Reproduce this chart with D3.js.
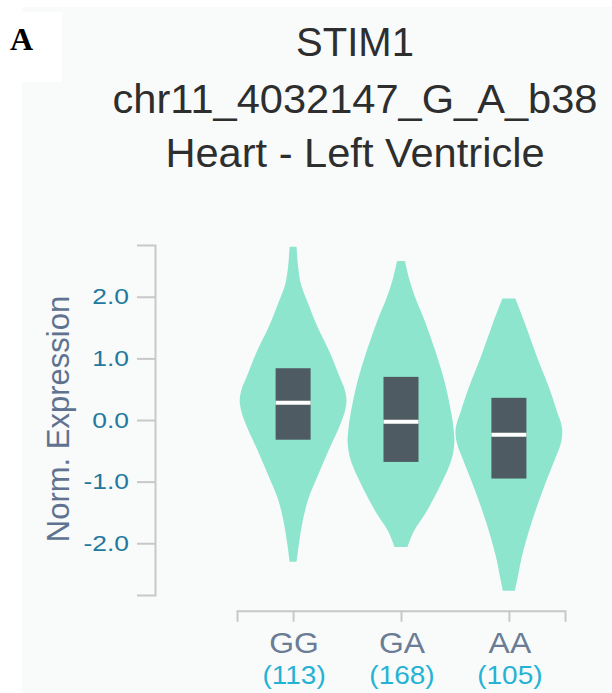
<!DOCTYPE html>
<html>
<head>
<meta charset="utf-8">
<script src="https://cdn.jsdelivr.net/npm/d3@7"></script>
<style>
  html, body { margin: 0; padding: 0; background: #ffffff; }
  svg { display: block; }
  text { font-family: "Liberation Sans", Arial, sans-serif; }
</style>
</head>
<body>
<div id="chart"></div>
<script>
// ---- data ----
const panelLabel = "A";
const titleLines = ["STIM1", "chr11_4032147_G_A_b38", "Heart - Left Ventricle"];
const genotypes = ["GG", "GA", "AA"];
const sampleCounts = [113, 168, 105];
const yTicks = [-2, -1, 0, 1, 2];
const yDomain = [-2.84, 2.84];
const yLabel = "Norm. Expression";

// violin outlines: expression value and relative density (half width)
const ggValues  = [2.81, 2.50, 2.20, 1.90, 1.50, 1.10, 0.70, 0.50, 0.32, 0.12, -0.10, -0.35, -0.60, -0.90, -1.30, -1.70, -2.00, -2.30];
const ggDensity = [3.5, 5, 8, 15, 25, 37, 47, 52, 54, 52, 47, 40, 33, 25, 15, 9, 6, 3.5];
const gaValues  = [2.58, 2.30, 2.00, 1.60, 1.14, 0.60, 0.10, -0.12, -0.35, -0.55, -0.76, -1.14, -1.50, -1.80, -2.06];
const gaDensity = [4, 8, 14, 24, 34, 44, 50.5, 52.5, 53.5, 52, 48, 37, 25, 13, 6.5];
const aaValues  = [1.97, 1.57, 1.03, 0.49, 0.10, -0.04, -0.18, -0.38, -0.60, -1.14, -1.70, -2.22, -2.54, -2.77];
const aaDensity = [6.5, 16, 28, 41, 49, 52, 53.5, 52, 47, 34, 22, 13, 9, 6];

// box summaries
const q1 = [-0.32, -0.68, -0.95];
const medians = [0.28, -0.03, -0.24];
const q3 = [0.84, 0.70, 0.36];

// ---- drawing ----
const W = 612, H = 693;
const svg = d3.select("#chart").append("svg").attr("width", W).attr("height", H);

svg.append("rect").attr("x", 22).attr("y", 7).attr("width", W - 22).attr("height", H - 7).attr("fill", "#f9fbfb");
svg.append("rect").attr("x", 0).attr("y", 12).attr("width", 62).attr("height", 70).attr("fill", "#ffffff");

svg.append("text").attr("x", 10).attr("y", 50)
  .style("font-family", "'Liberation Serif', 'Times New Roman', serif")
  .attr("font-weight", "bold").attr("font-size", 32).attr("fill", "#000").text(panelLabel);

const titleY = [56, 112.5, 167];
const titleSX = [1.0, 1.04, 1.04];
svg.selectAll("text.title").data(titleLines).join("text")
  .attr("class", "title")
  .attr("transform", (d, i) => `translate(355,${titleY[i]}) scale(${titleSX[i]},1)`)
  .attr("text-anchor", "middle").attr("font-size", 40).attr("fill", "#2e2e2e")
  .text(d => d);

const y = d3.scaleLinear().domain(yDomain).range([595, 245]);
const x = d3.scalePoint().domain(genotypes).range([237, 565]).padding(0.52);
const halfW = x.step() / 2;

const series = [
  { values: ggValues, density: ggDensity },
  { values: gaValues, density: gaDensity },
  { values: aaValues, density: aaDensity }
];

const plot = svg.append("g");
series.forEach((s, i) => {
  const cx = x(genotypes[i]);
  const wScale = d3.scaleLinear().domain([0, d3.max(s.density)]).range([0, halfW * 0.99]);
  const pts = s.values.map((v, j) => ({ v, d: s.density[j] }));
  const area = d3.area()
    .y(p => y(p.v))
    .x0(p => cx - wScale(p.d))
    .x1(p => cx + wScale(p.d))
    .curve(d3.curveCatmullRom.alpha(0.5));
  plot.append("path").attr("d", area(pts)).attr("fill", "#8ee5cd");
});

const boxW = 35;
genotypes.forEach((g, i) => {
  const cx = x(g);
  plot.append("rect")
    .attr("x", cx - boxW / 2).attr("width", boxW)
    .attr("y", y(q3[i])).attr("height", y(q1[i]) - y(q3[i]))
    .attr("fill", "#4f5b62");
  plot.append("line")
    .attr("x1", cx - boxW / 2).attr("x2", cx + boxW / 2)
    .attr("y1", y(medians[i])).attr("y2", y(medians[i]))
    .attr("stroke", "#ffffff").attr("stroke-width", 4);
});

// y axis
const yAxisG = svg.append("g").attr("transform", "translate(155,0)")
  .call(d3.axisLeft(y).tickValues(yTicks).tickSize(18).tickSizeOuter(18).tickPadding(8)
    .tickFormat(d => d.toFixed(1)));
yAxisG.selectAll("path.domain, .tick line").attr("stroke", "#c8c8c8").attr("stroke-width", 2);
yAxisG.selectAll(".tick text")
  .attr("x", 0)
  .attr("transform", "translate(-26,0) scale(1.2,1)")
  .attr("font-size", 22).attr("fill", "#2279a0")
  .style("font-family", "'Liberation Sans', Arial, sans-serif");

svg.append("text")
  .attr("transform", "translate(69,419) rotate(-90)")
  .attr("text-anchor", "middle").attr("font-size", 31).attr("fill", "#5f7290")
  .text(yLabel);

// x axis
const xAxisG = svg.append("g").attr("transform", "translate(0,610.7)")
  .call(d3.axisBottom(x).tickSize(11).tickSizeOuter(11).tickFormat(() => ""));
xAxisG.selectAll("path.domain, .tick line").attr("stroke", "#c8c8c8").attr("stroke-width", 2);

genotypes.forEach((g, i) => {
  const cx = x(g);
  svg.append("text")
    .attr("transform", `translate(${cx + 1},653) scale(1.1,1)`)
    .attr("text-anchor", "middle").attr("font-size", 29).attr("fill", "#6b7c96")
    .text(g);
  svg.append("text")
    .attr("transform", `translate(${cx + 1},684) scale(1.12,1)`)
    .attr("text-anchor", "middle").attr("font-size", 25).attr("fill", "#26b2d4")
    .text(`(${sampleCounts[i]})`);
});
</script>
</body>
</html>
